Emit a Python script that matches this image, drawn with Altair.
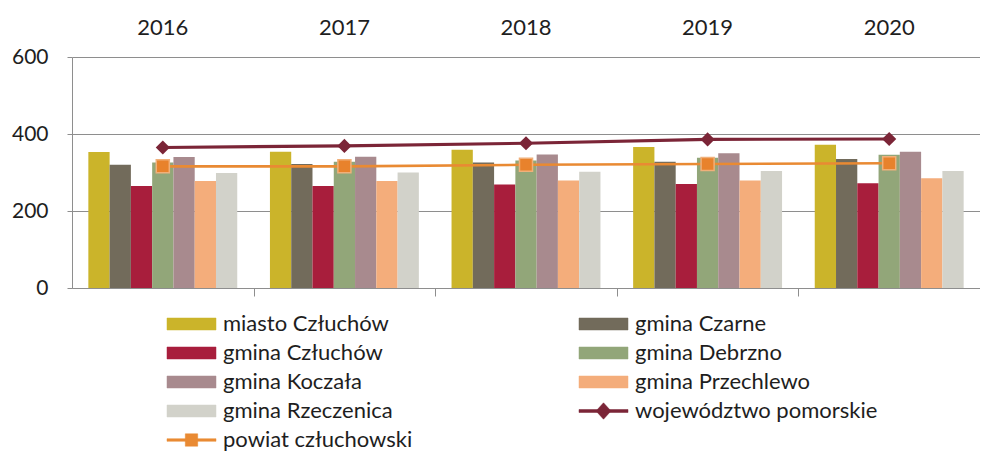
import altair as alt
import pandas as pd

years = ["2016", "2017", "2018", "2019", "2020"]

bar_series = ["miasto Człuchów", "gmina Czarne", "gmina Człuchów", "gmina Debrzno",
              "gmina Koczała", "gmina Przechlewo", "gmina Rzeczenica"]
bar_colors = ["#CBB42A", "#726B5B", "#A81E3C", "#92A679", "#A88A8E", "#F4AD7B", "#D2D2CA"]

miasto_czluchow = [353, 354, 359, 366, 372]
gmina_czarne = [320, 322, 326, 328, 335]
gmina_czluchow = [265, 265, 269, 270, 272]
gmina_debrzno = [326, 328, 331, 338, 346]
gmina_koczala = [340, 341, 347, 350, 354]
gmina_przechlewo = [278, 278, 279, 279, 285]
gmina_rzeczenica = [299, 300, 302, 304, 304]

wojewodztwo = [365, 369, 376, 386, 387]
powiat = [316, 316, 320, 322, 324]

woj_name = "województwo pomorskie"
pow_name = "powiat człuchowski"
woj_color = "#7B2537"
pow_color = "#E98A33"

bar_values = [miasto_czluchow, gmina_czarne, gmina_czluchow, gmina_debrzno,
              gmina_koczala, gmina_przechlewo, gmina_rzeczenica]

rows = []
for s, vals in zip(bar_series, bar_values):
    for y, v in zip(years, vals):
        rows.append({"year": y, "series": s, "value": v})
bars_df = pd.DataFrame(rows)

woj_df = pd.DataFrame({"year": years, "series": woj_name, "value": wojewodztwo})
pow_df = pd.DataFrame({"year": years, "series": pow_name, "value": powiat})

legend_order = ["miasto Człuchów", "gmina Czarne", "gmina Człuchów", "gmina Debrzno",
                "gmina Koczała", "gmina Przechlewo", "gmina Rzeczenica", woj_name, pow_name]
color_map = dict(zip(bar_series, bar_colors))
color_map[woj_name] = woj_color
color_map[pow_name] = pow_color
legend_colors = [color_map[s] for s in legend_order]

bar_path = "M-2.45,-0.6H2.45V0.6H-2.45Z"
woj_path = "M-2.45,-0.15H2.45V0.15H-2.45Z M0,-0.82L0.75,0L0,0.82L-0.75,0Z"
pow_path = "M-2.45,-0.13H2.45V0.13H-2.45Z M-0.62,-0.62H0.62V0.62H-0.62Z"
legend_shapes = [bar_path] * 7 + [woj_path, pow_path]

FONT = "Lato"
GRID = "#8E8E8E"
TXT = "#1E1E1E"

x_scale = alt.Scale(paddingInner=0.18, paddingOuter=0.09)
y_scale = alt.Scale(domain=[0, 600])
y_axis = alt.Axis(values=[0, 200, 400, 600], grid=True, gridColor=GRID, gridWidth=1,
                  domain=True, domainColor=GRID, ticks=True, tickSize=5, tickColor=GRID,
                  labelFontSize=21, labelFont=FONT, labelColor=TXT, labelPadding=19,
                  title=None)


def Y():
    return alt.Y("value:Q", scale=y_scale, title=None, axis=y_axis)


bars = alt.Chart(bars_df).mark_bar().encode(
    x=alt.X("year:N", scale=x_scale, title=None,
            axis=alt.Axis(orient="bottom", labels=False, ticks=True, tickOffset=90.8,
                          tickSize=8, tickColor=GRID, domain=True, domainColor=GRID, grid=False,
                          title=None)),
    xOffset=alt.XOffset("series:N", sort=bar_series, scale=alt.Scale(paddingInner=0, paddingOuter=0)),
    y=Y(),
    color=alt.Color("series:N", scale=alt.Scale(domain=bar_series, range=bar_colors), legend=None),
)

woj_line = alt.Chart(woj_df).mark_line(color=woj_color, strokeWidth=3.2).encode(
    x=alt.X("year:N", scale=x_scale, title=None,
            axis=alt.Axis(orient="top", labels=True, ticks=False, domain=False, grid=False,
                          labelFontSize=22, labelFont=FONT, labelColor=TXT, labelPadding=18,
                          labelAngle=0, title=None)),
    y=Y(),
)
woj_pts = alt.Chart(woj_df).mark_point(shape="diamond", filled=True, color=woj_color,
                                        size=200, opacity=1).encode(
    x=alt.X("year:N", scale=x_scale, axis=None),
    y=Y(),
)
pow_line = alt.Chart(pow_df).mark_line(color=pow_color, strokeWidth=2.6).encode(
    x=alt.X("year:N", scale=x_scale, axis=None),
    y=Y(),
)
pow_pts = alt.Chart(pow_df).mark_point(shape="square", filled=True, fill="#E8822C",
                                        stroke="#F0B07A", strokeWidth=1.5, size=170, opacity=1).encode(
    x=alt.X("year:N", scale=x_scale, axis=None),
    y=Y(),
)

legend_df = pd.DataFrame({"series": legend_order, "year": years[0], "value": -1})
leg = alt.Legend(title=None, orient="none", legendX=108.5, legendY=256, columns=2,
                 direction="horizontal",
                 columnPadding=165, rowPadding=7, symbolSize=400, symbolStrokeWidth=0.5,
                 labelFontSize=22, labelFont=FONT, labelColor=TXT, labelOffset=20.5,
                 labelLimit=500, symbolOpacity=1)
legend_layer = alt.Chart(legend_df).mark_point(filled=True, size=100).encode(
    x=alt.X("year:N", scale=x_scale, axis=None),
    y=Y(),
    fill=alt.Fill("series:N", scale=alt.Scale(domain=legend_order, range=legend_colors), legend=leg),
    stroke=alt.Stroke("series:N", scale=alt.Scale(domain=legend_order, range=legend_colors), legend=leg),
    shape=alt.Shape("series:N", scale=alt.Scale(domain=legend_order, range=legend_shapes), legend=leg),
).transform_filter("datum.value > 0")

chart = alt.layer(bars, woj_line, pow_line, woj_pts, pow_pts, legend_layer).properties(
    width=908, height=231,
    autosize=alt.AutoSizeParams(type="none"),
    padding={"left": 64, "top": 49, "right": 0, "bottom": 170},
    background="white",
).configure_view(strokeWidth=0)

chart.save("out.html", embed_options={"renderer": "svg", "actions": False})
